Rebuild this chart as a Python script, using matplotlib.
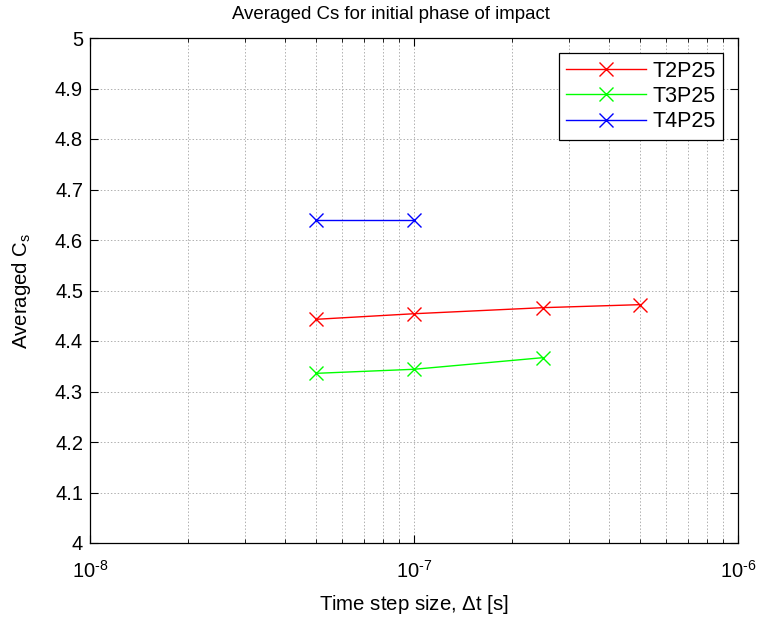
import matplotlib
matplotlib.use("Agg")
import matplotlib.pyplot as plt
from matplotlib.ticker import LogLocator, MultipleLocator, FuncFormatter
import numpy as np

plt.rcParams["font.family"] = ["Liberation Sans", "DejaVu Sans"]
plt.rcParams["mathtext.fontset"] = "custom"
plt.rcParams["mathtext.rm"] = "Liberation Sans"
plt.rcParams["mathtext.it"] = "Liberation Sans:italic"

# time step sizes [s] and averaged Cs per case
dt_t2 = [5e-8, 1e-7, 2.5e-7, 5e-7]
cs_t2 = [4.443, 4.454, 4.466, 4.472]
dt_t3 = [5e-8, 1e-7, 2.5e-7]
cs_t3 = [4.336, 4.344, 4.367]
dt_t4 = [5e-8, 1e-7]
cs_t4 = [4.639, 4.639]
labels = ["T2P25", "T3P25", "T4P25"]
colors = ["#ff0000", "#00ff00", "#0000ff"]

fig = plt.figure(figsize=(7.58, 6.17), dpi=100)
ax = fig.add_axes([90 / 758, 74 / 617, 648 / 758, 505 / 617])

for x, y, lab, c in zip([dt_t2, dt_t3, dt_t4], [cs_t2, cs_t3, cs_t4], labels, colors):
    ax.plot(x, y, color=c, marker="x", markersize=10, markeredgewidth=1.0,
            linewidth=1.0, label=lab)

ax.set_xscale("log")
ax.set_xlim(1e-8, 1e-6)
ax.set_ylim(4, 5)
ax.yaxis.set_major_locator(MultipleLocator(0.1))
ax.yaxis.set_major_formatter(FuncFormatter(lambda v, p: f"{v:.1f}".rstrip("0").rstrip(".")))
ax.xaxis.set_major_locator(LogLocator(base=10, numticks=5))
ax.xaxis.set_minor_locator(LogLocator(base=10, subs=range(2, 10), numticks=20))
ax.xaxis.set_major_formatter(FuncFormatter(
    lambda v, p: r"$10^{\text{%d}}$" % int(round(np.log10(v)))))

grid_kw = dict(color="#b0b0b0", linestyle=(0, (1.5, 2)), linewidth=0.7)
ax.grid(True, which="major", **grid_kw)
ax.grid(True, which="minor", axis="x", **grid_kw)

ax.tick_params(which="both", direction="in", top=True, right=True, labelsize=14.5)
ax.tick_params(axis="y", pad=5)
ax.tick_params(axis="x", pad=12)
ax.tick_params(which="major", length=6)
ax.tick_params(which="minor", length=3)
for s in ax.spines.values():
    s.set_linewidth(0.9)

ax.set_title("Averaged Cs for initial phase of impact", fontsize=13.4, pad=14, x=0.465)
ax.set_xlabel(r"Time step size, $\Delta$t [s]", fontsize=14.7, labelpad=8)
ax.set_ylabel(r"Averaged C$_\mathrm{s}$", fontsize=14.7, labelpad=16)

leg = ax.legend(loc="upper right", fontsize=15.5, fancybox=False, framealpha=1,
                edgecolor="black", handlelength=3.7, handletextpad=0.3,
                labelspacing=0.2, borderpad=0.35, borderaxespad=0.7)
leg.get_frame().set_linewidth(0.9)

fig.savefig("out.png", dpi=100)
